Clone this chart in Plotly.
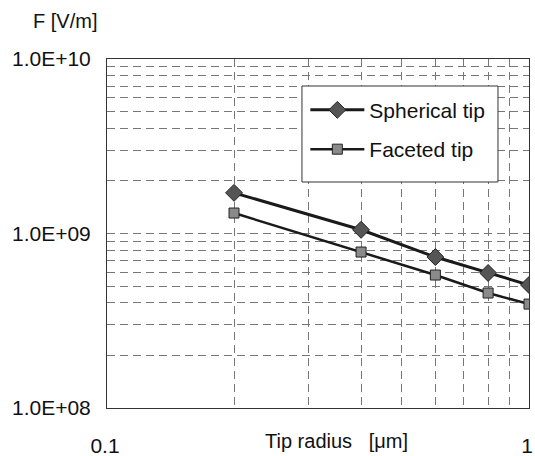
import plotly.graph_objects as go

radius_um = [0.2, 0.4, 0.6, 0.8, 1.0]
spherical_field = [1.71e9, 1.05e9, 7.33e8, 5.94e8, 5.07e8]
faceted_field = [1.31e9, 7.83e8, 5.78e8, 4.56e8, 3.94e8]

series_names = ["Spherical tip", "Faceted tip"]

x_grid = [m * 10.0 ** e for e in (-1,) for m in range(1, 10)] + [1.0]
x_text = ["0.1"] + [""] * 8 + ["1"]
y_grid = [m * 10.0 ** e for e in (8, 9) for m in range(1, 10)] + [1e10]
y_text = ["1.0E+08"] + [""] * 8 + ["1.0E+09"] + [""] * 8 + ["1.0E+10"]

FONT = "Liberation Sans, Arial, sans-serif"
FS = 21

fig = go.Figure()
fig.add_trace(go.Scatter(
    x=radius_um, y=spherical_field, name=series_names[0], mode="lines+markers",
    line=dict(color="#1a1a1a", width=3),
    marker=dict(symbol="diamond", size=13, color="#555555",
                line=dict(color="#222222", width=1)),
    legendgroup="a",
))
fig.add_trace(go.Scatter(
    x=radius_um, y=faceted_field, name=series_names[1], mode="lines+markers",
    line=dict(color="#1a1a1a", width=2.5),
    marker=dict(symbol="square", size=10, color="#8a8a8a",
                line=dict(color="#222222", width=1)),
    legendgroup="b",
))

grid_common = dict(
    showgrid=True, gridcolor="#777777", gridwidth=1, griddash="8px,5px",
    showline=True, linecolor="#333333", linewidth=1, mirror=True,
    ticks="", zeroline=False, automargin=False,
    tickfont=dict(family=FONT, size=FS, color="#111111"),
)

fig.update_xaxes(type="log", range=[-1, 0], tickmode="array",
                 tickvals=x_grid, ticktext=x_text, ticklabelstandoff=19,
                 ticklabelshift=-2, **grid_common)
fig.update_yaxes(type="log", range=[8, 10], tickmode="array",
                 tickvals=y_grid, ticktext=y_text, ticklabelstandoff=11,
                 **grid_common)

fig.add_annotation(text="F [V/m]", xref="paper", yref="paper",
                   x=-0.18, y=1.11, xanchor="left", yanchor="middle",
                   showarrow=False, font=dict(family=FONT, size=FS - 1, color="#111111"))
fig.add_annotation(text="Tip radius&nbsp;&nbsp; [\u03bcm]", xref="paper", yref="paper",
                   x=0.543, y=-0.095, xanchor="center", yanchor="middle",
                   showarrow=False, font=dict(family=FONT, size=FS - 1, color="#111111"))

# legend frame
fig.add_shape(type="rect", xref="paper", yref="paper",
              x0=0.462, x1=0.9265, y0=0.6476, y1=0.9226,
              fillcolor="white", line=dict(color="#333333", width=1), layer="above")

fig.update_layout(
    width=535, height=456,
    margin=dict(l=107, r=6, t=59, b=48),
    paper_bgcolor="white", plot_bgcolor="white",
    showlegend=True,
    legend=dict(x=0.47, y=0.912, xanchor="left", yanchor="top",
                bgcolor="rgba(0,0,0,0)", borderwidth=0,
                font=dict(family=FONT, size=FS, color="#111111"),
                tracegroupgap=9, traceorder="grouped", itemwidth=54),
)

fig.write_html("out.html", config={"displayModeBar": False},
               post_script="document.body.style.margin='0';document.documentElement.style.overflow='hidden';")
